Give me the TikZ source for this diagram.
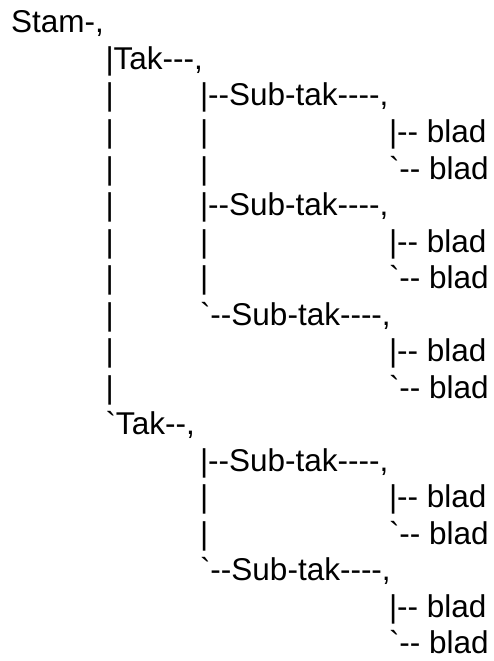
\documentclass[tikz,border=0pt]{standalone}
\usepackage{fontspec}
\newfontfamily\treefont{Liberation Sans}
\newcommand{\bq}{\symbol{96}}

\tikzset{
  row/.style={anchor=base west, inner sep=0pt, outer sep=0pt,
    font=\treefont\fontsize{31.5bp}{36.5bp}\selectfont},
}

\begin{document}
\begin{tikzpicture}[x=1bp, y=1bp]
  \useasboundingbox (0,0) rectangle (494,-661);
  % row/column/text, one tab stop = 94.5bp
  \foreach \r/\c/\txt in {
      0/0/{Stam-,},
      1/1/{|Tak---,},
      2/1/{|}, 2/2/{|--Sub-tak----,},
      3/1/{|}, 3/2/{|}, 3/4/{|-- blad},
      4/1/{|}, 4/2/{|}, 4/4/{\bq-- blad},
      5/1/{|}, 5/2/{|--Sub-tak----,},
      6/1/{|}, 6/2/{|}, 6/4/{|-- blad},
      7/1/{|}, 7/2/{|}, 7/4/{\bq-- blad},
      8/1/{|}, 8/2/{\bq--Sub-tak----,},
      9/1/{|}, 9/4/{|-- blad},
      10/1/{|}, 10/4/{\bq-- blad},
      11/1/{\bq Tak--,},
      12/2/{|--Sub-tak----,},
      13/2/{|}, 13/4/{|-- blad},
      14/2/{|}, 14/4/{\bq-- blad},
      15/2/{\bq--Sub-tak----,},
      16/4/{|-- blad},
      17/4/{\bq-- blad}}
    \node[row] (n\r-\c) at (11+94.5*\c, -33-36.5*\r) {\txt};
\end{tikzpicture}
\end{document}
